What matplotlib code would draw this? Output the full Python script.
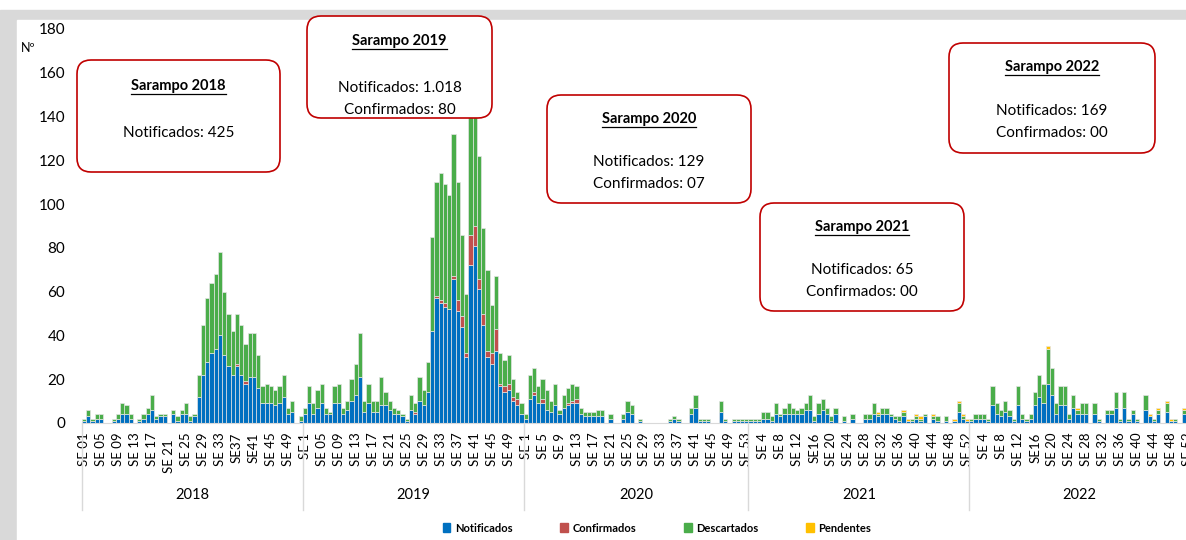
import numpy as np
import matplotlib.pyplot as plt
import matplotlib.transforms as mtransforms
from matplotlib.patches import Rectangle, FancyBboxPatch, Patch

plt.rcParams['font.family'] = ['Lato', 'DejaVu Sans']

## weekly counts (SE = semana epidemiologica)
notificados_2018 = [1, 3, 1, 2, 2, 0, 0, 1, 2, 4, 4, 2, 0, 1, 2, 4, 6, 2, 3, 3, 0, 4, 1, 4, 4, 1,
                    3, 12, 22, 28, 32, 34, 40, 31, 26, 22, 26, 22, 18, 21, 21, 16, 9, 9, 9, 8, 9, 12, 4, 5, 0, 1]
confirmados_2018 = [0, 0, 0, 0, 0, 0, 0, 0, 0, 0, 0, 0, 0, 0, 0, 0, 0, 0, 0, 0, 0, 0, 0, 0, 0, 0,
                    0, 0, 0, 0, 0, 0, 0, 0, 0, 0, 1, 0, 1, 0, 0, 0, 0, 0, 0, 0, 0, 0, 0, 0, 0, 0]
descartados_2018 = [1, 3, 1, 2, 2, 0, 0, 1, 2, 5, 4, 2, 0, 1, 2, 3, 7, 1, 1, 1, 0, 2, 2, 2, 5, 2,
                    1, 10, 23, 29, 32, 34, 38, 29, 24, 20, 23, 23, 17, 20, 20, 15, 8, 9, 8, 7, 8, 10, 3, 5, 0, 2]

notificados_2019 = [4, 9, 4, 7, 9, 4, 4, 9, 9, 4, 6, 10, 13, 21, 5, 9, 5, 5, 8, 8, 6, 4, 4, 3, 1, 6,
                    4, 10, 8, 14, 42, 57, 55, 53, 52, 66, 51, 44, 30, 72, 81, 61, 45, 30, 27, 33, 17, 14, 15, 10, 8, 4]
confirmados_2019 = [0, 0, 0, 0, 0, 0, 0, 0, 0, 0, 0, 0, 0, 0, 0, 0, 0, 0, 0, 0, 0, 0, 0, 0, 0, 0,
                    1, 0, 0, 0, 0, 1, 1, 2, 0, 1, 5, 5, 2, 14, 9, 5, 5, 3, 5, 10, 1, 3, 3, 2, 3, 0]
descartados_2019 = [3, 8, 5, 8, 9, 3, 1, 8, 9, 3, 4, 10, 14, 20, 5, 9, 5, 5, 13, 6, 4, 3, 2, 1, 1, 7,
                    4, 11, 7, 14, 43, 52, 58, 54, 52, 65, 54, 37, 27, 58, 72, 56, 39, 37, 22, 24, 14, 12, 13, 8, 3, 5]

notificados_2020 = [2, 11, 13, 9, 9, 6, 5, 8, 4, 7, 8, 9, 9, 4, 3, 3, 3, 3, 3, 0, 2, 0, 0, 2, 5, 4,
                    0, 1, 0, 0, 0, 0, 0, 0, 1, 2, 1, 0, 0, 4, 7, 1, 1, 1, 0, 0, 5, 1, 0, 1, 1, 1, 1]
confirmados_2020 = [0, 0, 1, 0, 2, 0, 0, 0, 0, 0, 1, 1, 2, 0, 0, 0, 0, 0, 0, 0, 0, 0, 0, 0, 0, 0,
                    0, 0, 0, 0, 0, 0, 0, 0, 0, 0, 0, 0, 0, 0, 0, 0, 0, 0, 0, 0, 0, 0, 0, 0, 0, 0, 0]
descartados_2020 = [2, 11, 11, 8, 9, 9, 5, 10, 2, 6, 7, 8, 6, 3, 2, 2, 2, 3, 3, 0, 2, 0, 0, 2, 5, 4,
                    0, 1, 0, 0, 0, 0, 0, 0, 1, 1, 1, 0, 0, 3, 6, 1, 1, 1, 0, 0, 5, 1, 0, 1, 1, 1, 1]

notificados_2021 = [1, 1, 1, 2, 2, 1, 4, 3, 4, 4, 4, 4, 4, 6, 6, 1, 4, 6, 4, 1, 4, 0, 1, 0, 2, 0,
                    0, 2, 2, 4, 3, 4, 4, 3, 2, 1, 3, 1, 1, 2, 1, 3, 0, 2, 1, 0, 1, 0, 1, 5, 2, 1]
descartados_2021 = [1, 1, 1, 3, 3, 2, 5, 1, 3, 5, 3, 2, 3, 3, 7, 2, 5, 5, 3, 2, 3, 0, 2, 0, 2, 0,
                    0, 2, 2, 5, 1, 3, 3, 1, 1, 2, 2, 0, 1, 1, 1, 1, 0, 1, 2, 0, 2, 0, 0, 4, 1, 0]
pendentes_2021 = [0, 0, 0, 0, 0, 0, 0, 0, 0, 0, 0, 0, 0, 0, 0, 0, 0, 0, 0, 0, 0, 0, 0, 0, 0, 0,
                  0, 0, 0, 0, 1, 0, 0, 0, 0, 0, 1, 1, 0, 1, 1, 0, 0, 1, 0, 0, 0, 0, 1, 1, 1, 1]

notificados_2022 = [1, 2, 2, 2, 1, 8, 4, 3, 5, 3, 1, 8, 2, 1, 2, 8, 12, 9, 18, 13, 4, 8, 8, 2, 7, 4,
                    4, 4, 0, 4, 1, 0, 4, 4, 7, 1, 7, 1, 4, 1, 0, 6, 3, 1, 4, 0, 5, 1, 1, 0, 4, 2]
descartados_2022 = [1, 2, 2, 2, 1, 9, 5, 3, 5, 3, 1, 9, 2, 1, 2, 6, 10, 9, 16, 12, 5, 9, 9, 2, 6, 2,
                    5, 5, 0, 5, 1, 0, 2, 2, 7, 1, 7, 1, 2, 1, 0, 7, 0, 1, 2, 0, 4, 0, 1, 0, 2, 1]
pendentes_2022 = [0, 0, 0, 0, 0, 0, 0, 0, 0, 0, 0, 0, 0, 0, 0, 0, 0, 0, 1, 0, 0, 0, 0, 0, 0, 1,
                  0, 0, 0, 0, 0, 0, 0, 0, 0, 0, 0, 0, 0, 0, 0, 0, 1, 0, 1, 0, 1, 1, 0, 0, 1, 0]

years = ['2018', '2019', '2020', '2021', '2022']
weeks_per_year = [52, 52, 53, 52, 52]

labels_2018 = ['SE 01', 'SE 05', 'SE 09', 'SE 13', 'SE 17', 'SE 21  ', 'SE 25', 'SE 29', 'SE 33',
               'SE37', 'SE41', 'SE 45', 'SE 49']
labels_2019 = ['SE 1', 'SE 05', 'SE 09', 'SE 13', 'SE 17', 'SE 21', 'SE 25', 'SE 29', 'SE 33',
               'SE 37', 'SE 41', 'SE 45', 'SE 49']
labels_2020 = ['SE 1', 'SE 5', 'SE 9', 'SE 13', 'SE 17', 'SE 21', 'SE 25', 'SE 29', 'SE 33',
               'SE 37', 'SE 41', 'SE 45', 'SE 49', 'SE 53']
labels_2021 = ['SE 4', 'SE 8', 'SE 12', 'SE16', 'SE 20', 'SE 24', 'SE 28', 'SE 32', 'SE 36',
               'SE 40', 'SE 44', 'SE 48', 'SE 52']
labels_2022 = ['SE 4', 'SE 8', 'SE 12', 'SE16', 'SE 20', 'SE 24', 'SE 28', 'SE 32', 'SE 36',
               'SE 40', 'SE 44', 'SE 48', 'SE 52']

## boxes: title, lines
box_titles = ['Sarampo 2018', 'Sarampo 2019', 'Sarampo 2020', 'Sarampo 2021', 'Sarampo 2022']
box_lines = [['Notificados: 425'],
             ['Notificados: 1.018', 'Confirmados: 80'],
             ['Notificados: 129', 'Confirmados: 07'],
             ['Notificados: 65', 'Confirmados: 00'],
             ['Notificados: 169', 'Confirmados: 00']]

## colors
c_not = '#0070c0'
c_conf = '#c0504d'
c_desc = '#4aad4a'
c_pend = '#ffc000'

## stacking
notificados = np.array(notificados_2018 + notificados_2019 + notificados_2020 + notificados_2021 + notificados_2022)
confirmados = np.concatenate([confirmados_2018, confirmados_2019, confirmados_2020, np.zeros(104, dtype=int)])
descartados = np.array(descartados_2018 + descartados_2019 + descartados_2020 + descartados_2021 + descartados_2022)
pendentes = np.concatenate([np.zeros(157, dtype=int), pendentes_2021, pendentes_2022])
x = np.arange(len(notificados))

W, H = 1186, 540
fig = plt.figure(figsize=(W / 100, H / 100), dpi=100)

## grey frame of the slide
fig.patches.append(Rectangle((0, 0), 1, 1 - 10 / H, transform=fig.transFigure, color='#d9d9d9', zorder=-2))
fig.patches.append(Rectangle((17 / W, 0), 1, 1 - 20 / H, transform=fig.transFigure, color='white', zorder=-1))

ax = fig.add_axes([82 / W, (H - 423) / H, (1190 - 82) / W, 394 / H], zorder=1)
ax.patch.set_alpha(0)

bottom = np.zeros(len(x))
for vals, col in [(notificados, c_not), (confirmados, c_conf), (descartados, c_desc), (pendentes, c_pend)]:
    m = vals > 0
    ax.bar(x[m], vals[m], width=1.0, bottom=bottom[m], color=col, edgecolor='#e4e4e4', linewidth=0.5)
    bottom = bottom + vals

ax.set_xlim(-0.5, len(x) - 0.5)
ax.set_ylim(0, 180)
ax.set_yticks(range(0, 181, 20))
ax.tick_params(axis='y', length=0, pad=12, labelsize=11)
for s in ['top', 'right', 'left']:
    ax.spines[s].set_visible(False)
ax.spines['bottom'].set_color('#d9d9d9')

tick_labels = labels_2018 + labels_2019 + labels_2020 + labels_2021 + labels_2022
ax.set_xticks(np.arange(0, len(x), 4))
ax.set_xticklabels(tick_labels, rotation=90, fontsize=9.5)
ax.tick_params(axis='x', length=0, pad=7)

## year groups
trans = mtransforms.blended_transform_factory(ax.transData, ax.transAxes)
edges = np.concatenate([[0], np.cumsum(weeks_per_year)]) - 0.5
for b in edges:
    ax.plot([b, b], [0, -0.22], transform=trans, color='#d9d9d9', lw=1, clip_on=False)
for i, yr in enumerate(years):
    ax.text((edges[i] + edges[i + 1]) / 2, -0.183, yr, transform=trans, ha='center', va='center', fontsize=10.5)

## overlay in pixel units for boxes and texts
ov = fig.add_axes([0, 0, 1, 1], zorder=3)
ov.set_xlim(0, W)
ov.set_ylim(H, 0)
ov.axis('off')
ov.patch.set_alpha(0)

ov.text(28, 48, 'Nº', fontsize=9, ha='center', va='center')

boxes = [(77, 60, 203, 112), (307, 16, 185, 102), (547, 95, 204, 108), (760, 203, 204, 108), (949, 43, 206, 110)]
title_y = [86, 41, 119, 227, 67]
first_line_y = [133, 88, 162, 270, 111]
titles = []
for (bx, by, bw, bh), t, lines, ty, ly in zip(boxes, box_titles, box_lines, title_y, first_line_y):
    ov.add_patch(FancyBboxPatch((bx, by), bw, bh, boxstyle='round,pad=0,rounding_size=14',
                                fc='white', ec='#c00000', lw=1.2))
    cx = bx + bw / 2
    titles.append(ov.text(cx, ty, t, ha='center', va='center', fontsize=10.5, fontweight='bold'))
    for k, ln in enumerate(lines):
        ov.text(cx, ly + 22 * k, ln, ha='center', va='center', fontsize=11)

## underline the box titles
fig.canvas.draw()
r = fig.canvas.get_renderer()
for t in titles:
    bb = t.get_window_extent(renderer=r)
    yline = H - bb.y0 + 1
    ov.plot([bb.x0, bb.x1], [yline, yline], color='black', lw=0.9)

## legend
handles = [Patch(color=c_not, label='Notificados'), Patch(color=c_conf, label='Confirmados'),
           Patch(color=c_desc, label='Descartados'), Patch(color=c_pend, label='Pendentes')]
fig.legend(handles=handles, loc='center', bbox_to_anchor=(657 / W, 12 / H), ncol=4, frameon=False,
           prop={'size': 8, 'weight': 'bold'}, handlelength=0.7, handleheight=0.8,
           handletextpad=0.4, columnspacing=4.3)

fig.savefig('out.png', dpi=100)
